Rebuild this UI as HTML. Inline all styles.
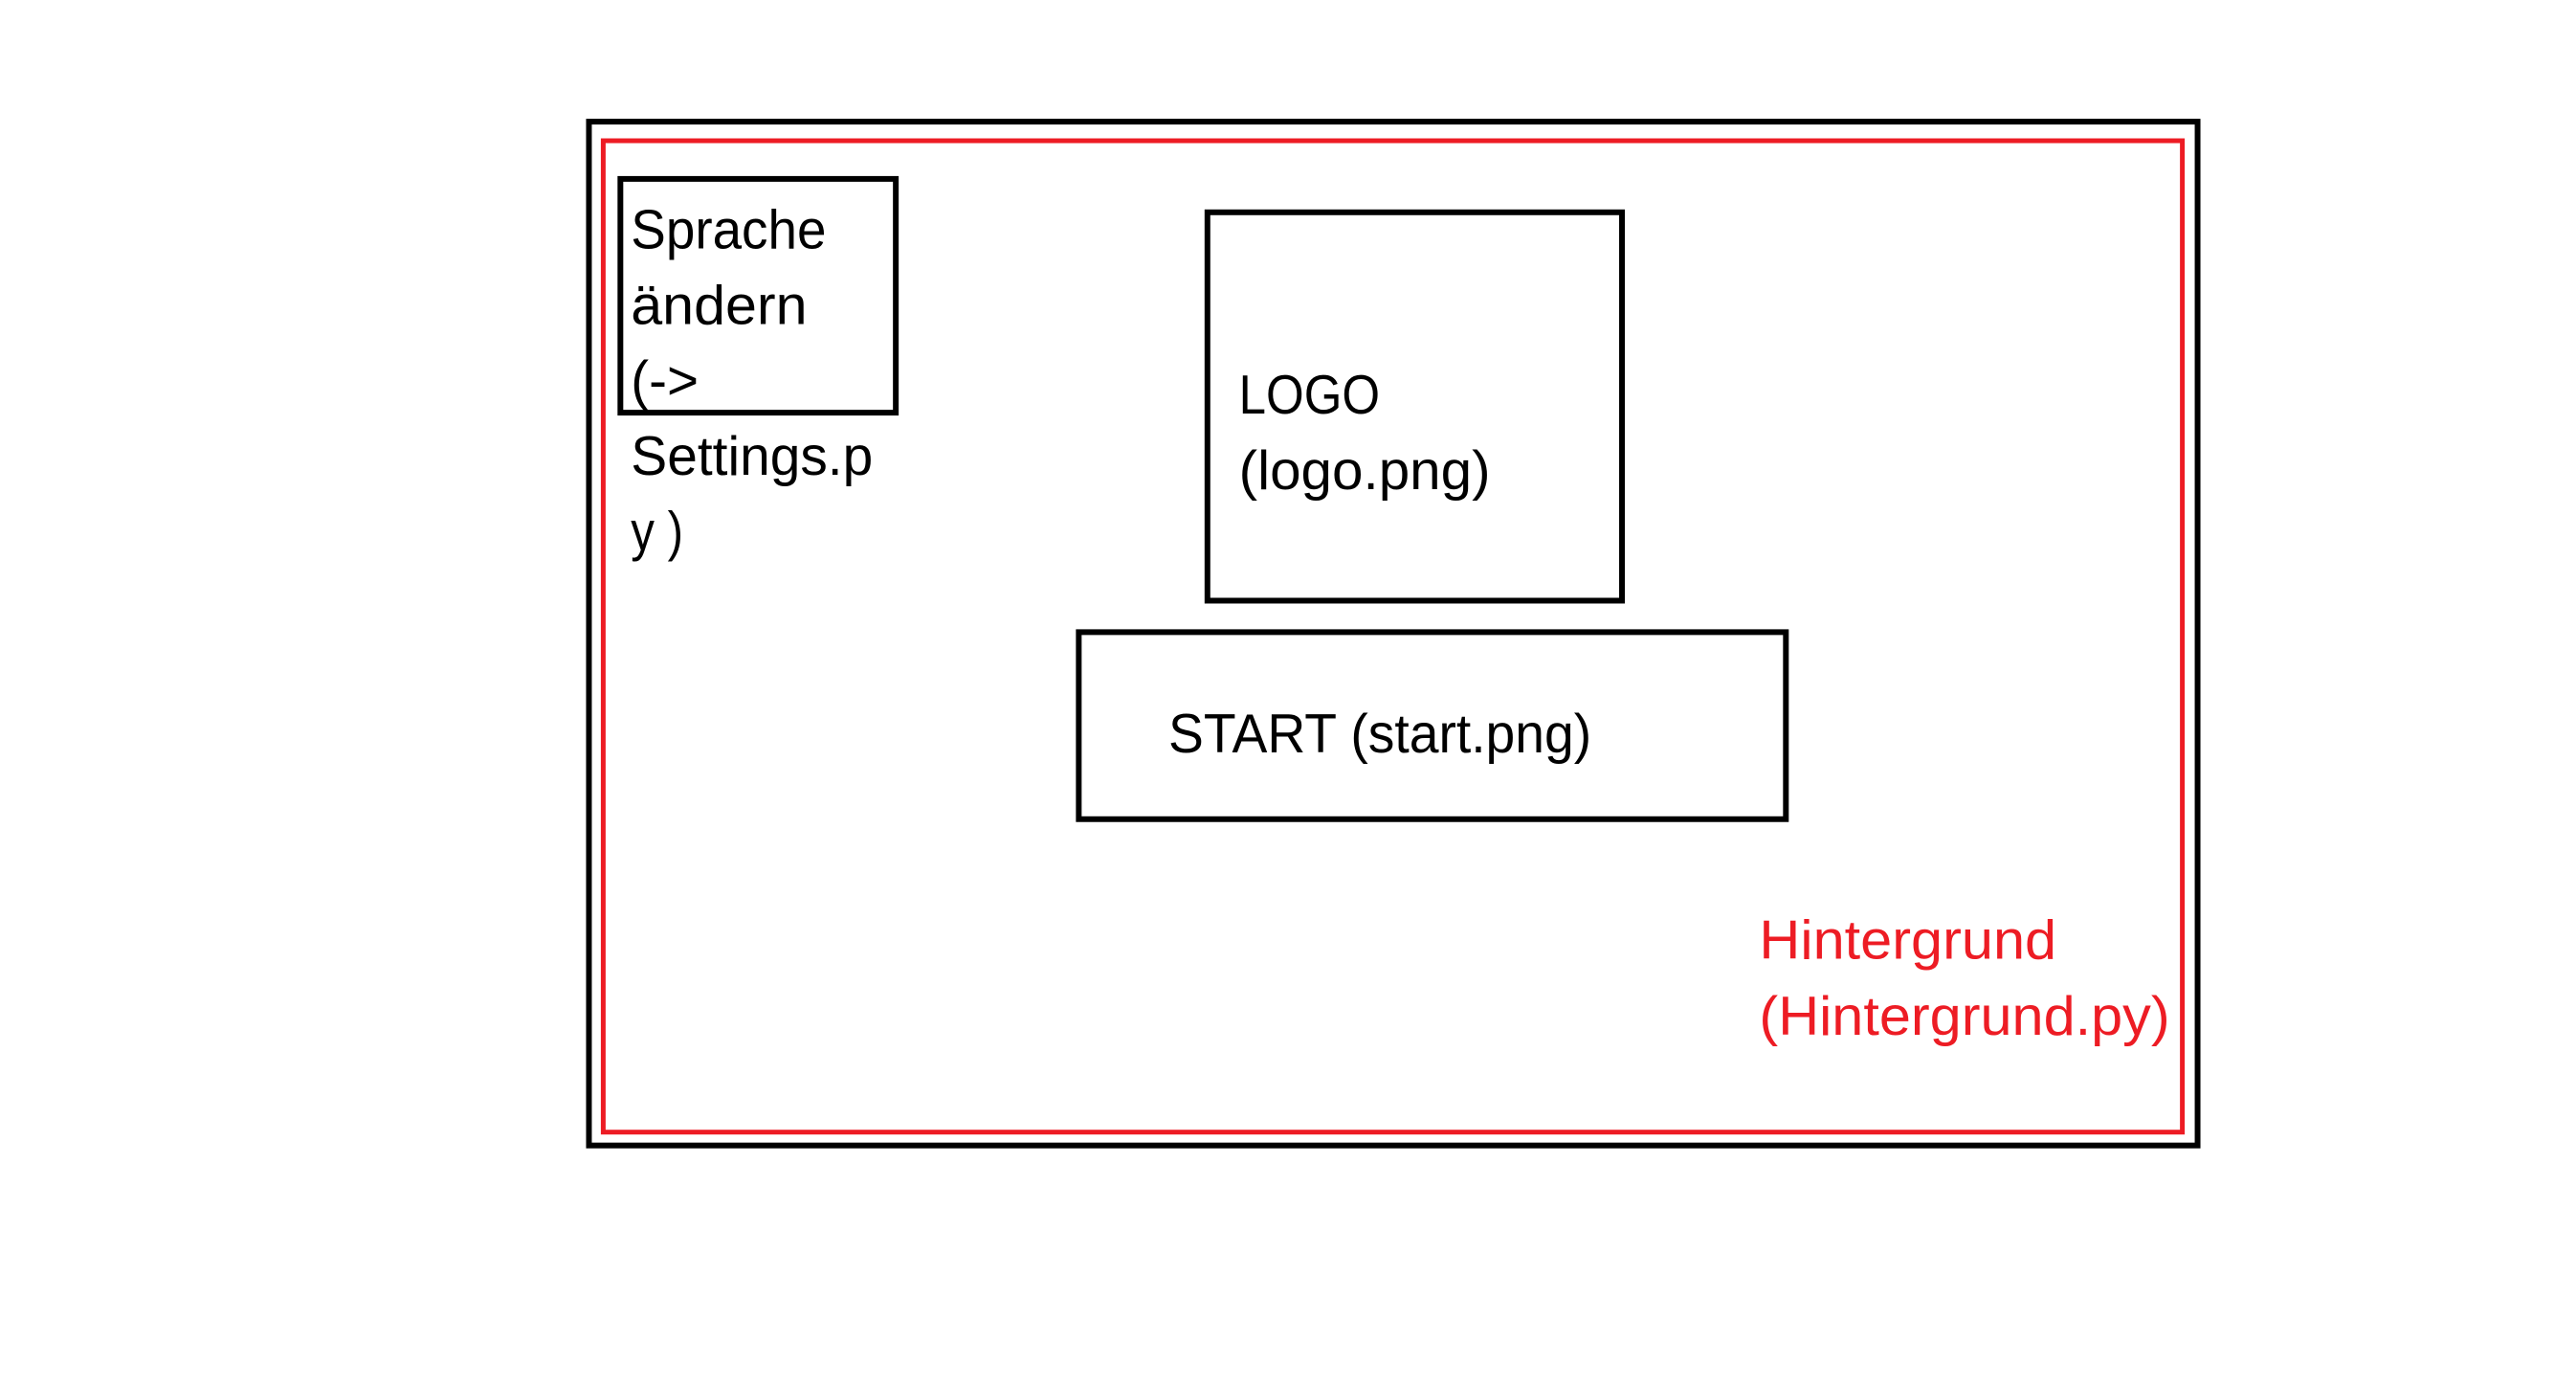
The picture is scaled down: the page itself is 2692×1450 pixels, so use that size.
<!DOCTYPE html>
<html><head><meta charset="utf-8"><style>html,body{margin:0;padding:0;background:#fff}svg{display:block}</style></head>
<body>
<svg width="2692" height="1450" viewBox="0 0 2692 1450" xmlns="http://www.w3.org/2000/svg" font-family="'Liberation Sans', sans-serif" font-size="58">
<rect x="0" y="0" width="2692" height="1450" fill="#fff"/>
<g transform="translate(-1,-1.5) scale(0.9959,0.9968)">
<rect x="619" y="129" width="1688" height="1073" fill="none" stroke="#000" stroke-width="6"/>
<rect x="634" y="149" width="1657" height="1039" fill="none" stroke="#ed1c24" stroke-width="5"/>
<rect x="652" y="189" width="289" height="245" fill="none" stroke="#000" stroke-width="6"/>
<rect x="1268" y="224" width="435" height="407" fill="none" stroke="#000" stroke-width="6"/>
<rect x="1133" y="664" width="742" height="196" fill="none" stroke="#000" stroke-width="6"/>
<g fill="#000">
<text x="663" y="262" textLength="205" lengthAdjust="spacingAndGlyphs">Sprache</text>
<text x="663" y="341" textLength="185" lengthAdjust="spacingAndGlyphs">ändern</text>
<text x="663" y="420" textLength="71" lengthAdjust="spacingAndGlyphs">(-&gt;</text>
<text x="663" y="499" textLength="254" lengthAdjust="spacingAndGlyphs">Settings.p</text>
<text x="663" y="578" textLength="55" lengthAdjust="spacingAndGlyphs">y )</text>
<text x="1301" y="435" textLength="148" lengthAdjust="spacingAndGlyphs">LOGO</text>
<text x="1301" y="514" textLength="264" lengthAdjust="spacingAndGlyphs">(logo.png)</text>
<text x="1227" y="790" textLength="444" lengthAdjust="spacingAndGlyphs">START (start.png)</text>
</g>
<g fill="#ed1c24">
<text x="1847" y="1006" textLength="312" lengthAdjust="spacingAndGlyphs">Hintergrund</text>
<text x="1847" y="1086" textLength="431" lengthAdjust="spacingAndGlyphs">(Hintergrund.py)</text>
</g>
</g>
</svg>
</body></html>
